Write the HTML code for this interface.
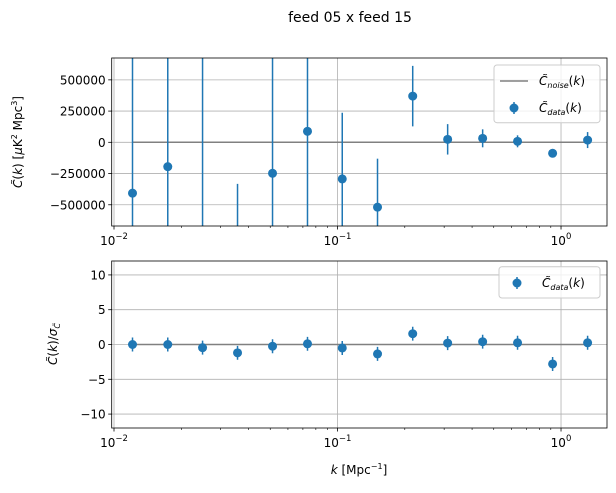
<!DOCTYPE html>
<html><head><meta charset="utf-8"><style>
html,body{margin:0;padding:0;background:#fff;overflow:hidden;width:616px;height:493px}
svg{display:block;font-family:"DejaVu Sans","Liberation Sans",sans-serif}
</style></head><body>
<svg id="chart" width="616" height="493" viewBox="0 0 616 493">
<text x="350" y="22" text-anchor="middle" font-size="14">feed 05 x feed 15</text>
<g id="top"></g>
<g id="bot"></g>
<text transform="translate(22,142) rotate(-90)" text-anchor="middle" font-size="12"><tspan font-style="italic">C̃</tspan>(<tspan font-style="italic">k</tspan>) [<tspan font-style="italic">μ</tspan>K<tspan font-size="8" dy="-5">2</tspan><tspan dy="5"> Mpc</tspan><tspan font-size="8" dy="-5">3</tspan><tspan dy="5">]</tspan></text>
<text transform="translate(57,344) rotate(-90)" text-anchor="middle" font-size="12"><tspan font-style="italic">C̃</tspan>(<tspan font-style="italic">k</tspan>)/<tspan font-style="italic">σ</tspan><tspan font-size="8" font-style="italic" dy="3">C̃</tspan></text>
<text x="359" y="474" text-anchor="middle" font-size="12"><tspan font-style="italic">k</tspan> [Mpc<tspan font-size="8" dy="-5">−1</tspan><tspan dy="5">]</tspan></text>
</svg>
<script>
const kValues=[0.0121,0.0174,0.0249,0.0357,0.0512,0.0734,0.105,0.151,0.217,0.311,0.446,0.639,0.917,1.315];
const topValues=[-407000,-195000,1000000,-1200000,-248000,88000,-293000,-519000,370000,24000,32000,8000,-88000,18000];
const topErrors=[3000000,3000000,3000000,867000,3000000,3000000,530000,388000,242000,122000,72000,48000,10000,64000];
const botValues=[0,0,-0.45,-1.2,-0.25,0.1,-0.5,-1.35,1.55,0.2,0.4,0.25,-2.8,0.25];
const botErrors=[1,1,1,1,1,1,1,1,1,1,1,1,1,1];
const topTicks=[500000,250000,0,-250000,-500000];
const topTickLabels=["500000","250000","0","−250000","−500000"];
const botTicks=[10,5,0,-5,-10];
const botTickLabels=["10","5","0","−5","−10"];
const xTicks=[0.01,0.1,1];
const xTickLabels=["10^-2","10^-1","10^0"];

const NS="http://www.w3.org/2000/svg";
const XL=111.7,XR=607,LMIN=-2.0103,LMAX=0.2057;
function xs(k){return XL+(Math.log10(k)-LMIN)/(LMAX-LMIN)*(XR-XL);}
function mk(p,tag,a){const e=document.createElementNS(NS,tag);for(const k in a)e.setAttribute(k,a[k]);p.appendChild(e);return e;}
const C="#1f77b4";

function panel(g,top,bot,ymin,ymax,vals,errs,ticks,labels,legendNoise,prefix){
  const ys=v=>bot-(v-ymin)/(ymax-ymin)*(bot-top);
  const clip=mk(g,"clipPath",{id:prefix+"clip"});
  mk(clip,"rect",{x:XL,y:top,width:XR-XL,height:bot-top});
  ticks.forEach((t,i)=>{
    const l=mk(g,"line",{x1:XL,x2:XR,y1:ys(t),y2:ys(t),stroke:"#b0b0b0","stroke-width":0.8});
    
    
    mk(g,"line",{x1:XL-3.5,x2:XL,y1:ys(t),y2:ys(t),stroke:"#000","stroke-width":0.8});
    const tx=mk(g,"text",{x:XL-6,y:ys(t)+4.5,"text-anchor":"end","font-size":12});
    tx.textContent=labels[i];
    
    
  });
  xTicks.forEach((t,i)=>{
    const x=xs(t);
    const l=mk(g,"line",{x1:x,x2:x,y1:top,y2:bot,stroke:"#b0b0b0","stroke-width":0.8});
    
    
    mk(g,"line",{x1:x,x2:x,y1:bot,y2:bot+3.5,stroke:"#000","stroke-width":0.8});
    const p=xTickLabels[i].split("^");
    const tx=mk(g,"text",{x:x,y:bot+19,"text-anchor":"middle","font-size":12});
    
    
    tx.textContent=p[0];
    const sp=mk(tx,"tspan",{"font-size":8.5,dy:-6});sp.textContent=p[1].replace("-","−");
  });
  for(let d=-3;d<=0;d++)for(let m=2;m<=9;m++){
    const v=m*Math.pow(10,d);const lv=Math.log10(v);
    if(lv<LMIN||lv>LMAX)continue;
    mk(g,"line",{x1:xs(v),x2:xs(v),y1:bot,y2:bot+2,stroke:"#000","stroke-width":0.6});
  }
  const n=mk(g,"line",{x1:xs(kValues[0]),x2:xs(kValues[kValues.length-1]),y1:ys(0),y2:ys(0),stroke:"#808080","stroke-width":1.5});
  
  
  const cg=mk(g,"g",{"clip-path":"url(#"+prefix+"clip)"});
  kValues.forEach((k,i)=>{
    const x=xs(k);
    const eb=mk(cg,"line",{x1:x,x2:x,y1:ys(vals[i]-errs[i]),y2:ys(vals[i]+errs[i]),stroke:C,"stroke-width":1.5});
    
    
    const pt=mk(cg,"circle",{cx:x,cy:ys(vals[i]),r:4.5,fill:C});
    
    
  });
  mk(g,"rect",{x:XL,y:top,width:XR-XL,height:bot-top,fill:"none",stroke:"#000","stroke-width":0.8});
  const lg=mk(g,"g",{});
  
  
  if(legendNoise){
    mk(lg,"rect",{x:494,y:65,width:106,height:57.7,rx:3,fill:"#fff","fill-opacity":0.8,stroke:"#ccc"});
    mk(lg,"line",{x1:500,x2:528,y1:81,y2:81,stroke:"#808080","stroke-width":1.5});
    const t1=mk(lg,"text",{x:539,y:85,"font-size":12});
    t1.innerHTML='<tspan font-style="italic">C̃</tspan><tspan font-size="8" font-style="italic" dy="3">noise</tspan><tspan dy="-3">(</tspan><tspan font-style="italic">k</tspan>)';
    mk(lg,"line",{x1:514,x2:514,y1:102,y2:114,stroke:C,"stroke-width":1.5});
    mk(lg,"circle",{cx:514,cy:108,r:4.5,fill:C});
    const t2=mk(lg,"text",{x:539,y:112,"font-size":12});
    t2.innerHTML='<tspan font-style="italic">C̃</tspan><tspan font-size="8" font-style="italic" dy="3">data</tspan><tspan dy="-3">(</tspan><tspan font-style="italic">k</tspan>)';
  }else{
    mk(lg,"rect",{x:499,y:266.7,width:101,height:31.3,rx:3,fill:"#fff","fill-opacity":0.8,stroke:"#ccc"});
    mk(lg,"line",{x1:517,x2:517,y1:277,y2:289,stroke:C,"stroke-width":1.5});
    mk(lg,"circle",{cx:517,cy:283,r:4.5,fill:C});
    const t2=mk(lg,"text",{x:542,y:287,"font-size":12});
    t2.innerHTML='<tspan font-style="italic">C̃</tspan><tspan font-size="8" font-style="italic" dy="3">data</tspan><tspan dy="-3">(</tspan><tspan font-style="italic">k</tspan>)';
  }
}
panel(document.getElementById("top"),58,226,-670000,675000,topValues,topErrors,topTicks,topTickLabels,true,"top");
panel(document.getElementById("bot"),261,428,-12,12,botValues,botErrors,botTicks,botTickLabels,false,"bottom");
</script>
</body></html>
